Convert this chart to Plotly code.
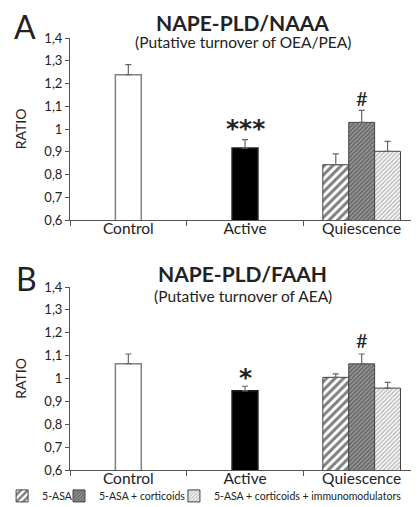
import plotly.graph_objects as go

categories = ["Control", "Active", "Quiescence"]
main_cats = ["Control", "Active"]

# Panel A: NAPE-PLD/NAAA
a_main = [1.239, 0.916]
a_main_err = [0.044, 0.037]
a_q = [0.843, 1.029, 0.902]
a_q_err = [0.048, 0.053, 0.044]

# Panel B: NAPE-PLD/FAAH
b_main = [1.065, 0.946]
b_main_err = [0.042, 0.020]
b_q = [1.005, 1.064, 0.958]
b_q_err = [0.015, 0.043, 0.025]

q_names = ["5-ASA", "5-ASA + corticoids", "5-ASA + corticoids + immunomodulators"]
y_ticks = [0.6, 0.7, 0.8, 0.9, 1.0, 1.1, 1.2, 1.3, 1.4]
y_ticktext = ["0,6", "0,7", "0,8", "0,9", "1", "1,1", "1,2", "1,3", "1,4"]

FONT = "Lato"
BW = 0.222
q_styles = [
    dict(shape="/", fgcolor="#000000", bgcolor="white", size=6, solidity=0.5),
    dict(shape="/", fgcolor="#2a2a2a", bgcolor="#9a9a9a", size=3, solidity=0.5),
    dict(shape="/", fgcolor="#777777", bgcolor="white", size=3, solidity=0.5),
]
q_offsets = [-1.5 * BW, -0.5 * BW, 0.5 * BW]
legend_ids = ["legend", "legend2", "legend3"]

fig = go.Figure()

for panel, (mvals, merr, qvals, qerr) in enumerate(
        [(a_main, a_main_err, a_q, a_q_err), (b_main, b_main_err, b_q, b_q_err)]):
    xa = "x" if panel == 0 else "x2"
    ya = "y" if panel == 0 else "y2"
    fig.add_trace(go.Bar(
        x=main_cats, y=mvals, xaxis=xa, yaxis=ya,
        width=BW, offset=-BW / 2, showlegend=False,
        marker=dict(color=["white", "black"], line=dict(color=["#808080", "#222222"], width=1.5)),
        error_y=dict(type="data", symmetric=False, array=merr, arrayminus=[0] * len(merr),
                     color="#666666", thickness=1.2, width=3),
    ))
    for i in range(3):
        fig.add_trace(go.Bar(
            x=["Quiescence"], y=[qvals[i]], xaxis=xa, yaxis=ya,
            width=BW, offset=q_offsets[i], name=q_names[i],
            showlegend=(panel == 1), legend=legend_ids[i],
            marker=dict(color="white", pattern=q_styles[i],
                        line=dict(color="#444444", width=1)),
            error_y=dict(type="data", symmetric=False, array=[qerr[i]], arrayminus=[0],
                         color="#666666", thickness=1.2, width=3),
        ))

axis_common = dict(showline=True, linecolor="#555555", linewidth=1, showgrid=False,
                   zeroline=False, ticks="outside", tickcolor="#555555")
xcommon = dict(domain=[0, 1], type="category", categoryorder="array",
               categoryarray=categories, range=[-0.5, 2.5], tickson="boundaries",
               tickfont=dict(size=15.5), ticklen=5, ticklabelstandoff=-6, **axis_common)
ycommon = dict(range=[0.6, 1.4], tickvals=y_ticks, ticktext=y_ticktext,
               tickfont=dict(size=13), ticklen=4,
               title=dict(text="RATIO", font=dict(size=14), standoff=14), **axis_common)
leg_common = dict(orientation="h", xanchor="left", y=-0.06, yanchor="middle",
                  font=dict(size=10.5), bgcolor="rgba(0,0,0,0)", itemwidth=30)
fig.update_layout(
    width=419, height=507,
    margin=dict(l=62, r=7, t=30, b=45, autoexpand=False),
    plot_bgcolor="white", paper_bgcolor="white",
    barmode="overlay", separators=", ",
    font=dict(family=FONT, color="#222222"),
    xaxis=dict(anchor="y", **xcommon),
    xaxis2=dict(anchor="y2", **xcommon),
    yaxis=dict(domain=[0.5787, 1], anchor="x", **ycommon),
    yaxis2=dict(domain=[0, 0.4236], anchor="x2", **ycommon),
    legend=dict(x=-0.194, **leg_common),
    legend2=dict(x=-0.0314, **leg_common),
    legend3=dict(x=0.297, **leg_common),
)

annotations = [
    dict(text="A", x=-0.129, y=1.0255, xref="paper", yref="paper", xanchor="center",
         yanchor="middle", font=dict(size=32), showarrow=False),
    dict(text="<b>NAPE-PLD/NAAA</b>", x=0.493, y=1.0359, xref="paper", yref="paper",
         yanchor="middle", font=dict(size=21), showarrow=False),
    dict(text="(Putative turnover of OEA/PEA)", x=0.495, y=0.991, xref="paper", yref="paper",
         yanchor="middle", font=dict(size=15.5), showarrow=False),
    dict(text="B", x=-0.124, y=0.4444, xref="paper", yref="paper", xanchor="center",
         yanchor="middle", font=dict(size=32), showarrow=False),
    dict(text="<b>NAPE-PLD/FAAH</b>", x=0.493, y=0.4549, xref="paper", yref="paper",
         yanchor="middle", font=dict(size=21), showarrow=False),
    dict(text="(Putative turnover of AEA)", x=0.495, y=0.4039, xref="paper", yref="paper",
         yanchor="middle", font=dict(size=15.5), showarrow=False),
    dict(text="<b>***</b>", x="Active", y=a_main[1] + a_main_err[1], xref="x", yref="y",
         yanchor="bottom", font=dict(size=25, family="DejaVu Sans"), showarrow=False, yshift=-5),
    dict(text="#", x="Quiescence", y=a_q[1] + a_q_err[1], xref="x", yref="y",
         yanchor="bottom", font=dict(size=20), showarrow=False, yshift=-2),
    dict(text="<b>*</b>", x="Active", y=b_main[1] + b_main_err[1], xref="x2", yref="y2",
         yanchor="bottom", font=dict(size=25, family="DejaVu Sans"), showarrow=False, yshift=-8),
    dict(text="#", x="Quiescence", y=b_q[1] + b_q_err[1], xref="x2", yref="y2",
         yanchor="bottom", font=dict(size=20), showarrow=False, yshift=0),
]
fig.update_layout(annotations=annotations)

fig.write_html("out.html")
